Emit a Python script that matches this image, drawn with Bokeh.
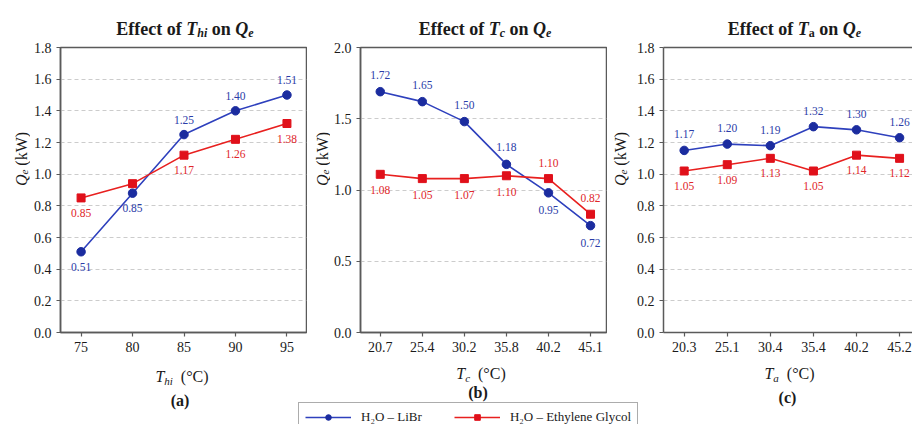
import math
from bokeh.plotting import figure
from bokeh.models import (Range1d, FixedTicker, Label, Legend, LegendItem,
                          ColumnDataSource, LinearAxis, NumeralTickFormatter)
from bokeh.layouts import row, column
from bokeh.embed import file_html
from bokeh.resources import INLINE
from bokeh.core.properties import value

# ---------------- data ----------------
# (a) effect of T_hi
thi = [75, 80, 85, 90, 95]
a_libr = [0.51, 0.88, 1.25, 1.40, 1.50]
a_libr_txt = ["0.51", "0.85", "1.25", "1.40", "1.51"]
a_libr_pos = ["below", "below", "above", "above", "above"]
a_eg = [0.85, 0.94, 1.12, 1.22, 1.32]
a_eg_txt = ["0.85", "", "1.17", "1.26", "1.38"]
a_eg_pos = ["below", "below", "below", "below", "below"]

# (b) effect of T_c
tc = ["20.7", "25.4", "30.2", "35.8", "40.2", "45.1"]
b_libr = [1.69, 1.62, 1.48, 1.18, 0.98, 0.75]
b_libr_txt = ["1.72", "1.65", "1.50", "1.18", "0.95", "0.72"]
b_libr_pos = ["above", "above", "above", "above", "below", "below"]
b_eg = [1.11, 1.08, 1.08, 1.10, 1.08, 0.83]
b_eg_txt = ["1.08", "1.05", "1.07", "1.10", "1.10", "0.82"]
b_eg_pos = ["below", "below", "below", "below", "above", "above"]

# (c) effect of T_a
ta = ["20.3", "25.1", "30.4", "35.4", "40.2", "45.2"]
c_libr = [1.15, 1.19, 1.18, 1.30, 1.28, 1.23]
c_libr_txt = ["1.17", "1.20", "1.19", "1.32", "1.30", "1.26"]
c_libr_pos = ["above"] * 6
c_eg = [1.02, 1.06, 1.10, 1.02, 1.12, 1.10]
c_eg_txt = ["1.05", "1.09", "1.13", "1.05", "1.14", "1.12"]
c_eg_pos = ["below"] * 6

series_names = ["H\u2082O \u2013 LiBr", "H\u2082O \u2013 Ethylene Glycol"]

# ---------------- style ----------------
FONT = "Liberation Serif"
BLUE = "#2e40bd"
BLUE_M = "#1b2c9f"
RED = "#e8201f"
RED_M = "#e0101a"
BLUE_T = "#2b3ca8"
RED_T = "#e0262a"
SPINE = "#5a5a5a"
GRID = "#cccccc"
TXT = "#1a1a1a"

# Times / Liberation Serif advance widths (per 1000 em)
W = {
    "normal": {" ": 250, "(": 333, ")": 333, "\u00b0": 400, "C": 667, "k": 500, "W": 944},
    "italic": {" ": 250, "T": 556, "h": 500, "i": 278, "c": 444, "a": 500, "Q": 722, "e": 444},
    "bold": {" ": 250, "E": 667, "f": 333, "e": 444, "c": 444, "t": 333, "o": 500,
             "n": 556, "(": 333, ")": 333, "a": 500, "b": 556},
    "bold italic": {" ": 250, "T": 611, "h": 556, "i": 278, "c": 444, "a": 500, "Q": 722,
                    "e": 444},
}


def tw(s, style, size):
    return sum(W[style].get(ch, 500) for ch in s) * size / 1000.0


def rich(p, segs, cx, cy, rotated=False):
    """Place a run of differently styled text pieces, centred on cx (or cy if rotated)."""
    total = sum(tw(t, st, sz) for t, st, sz, dy in segs)
    pos = -total / 2.0
    for t, st, sz, dy in segs:
        core = t.strip(" ")
        lead = tw(t[:len(t) - len(t.lstrip(" "))], st, sz)
        if core:
            if rotated:
                x, y, ang = cx - dy, cy + pos + lead, math.pi / 2
            else:
                x, y, ang = cx + pos + lead, cy + dy, 0.0
            p.add_layout(Label(x=x, y=y, x_units="screen", y_units="screen", text=core,
                               text_font=FONT, text_font_size=f"{sz}px",
                               text_font_style=st, text_align="left",
                               text_baseline="alphabetic", angle=ang, text_color=TXT))
        pos += tw(t, st, sz)


def strip(width, height):
    s = figure(width=width, height=height, output_backend="svg", toolbar_location=None,
               x_range=Range1d(0, width), y_range=Range1d(0, height), min_border=0,
               x_axis_location=None, y_axis_location=None)
    s.grid.visible = False
    s.outline_line_color = None
    s.border_fill_color = "white"
    s.background_fill_color = "white"
    return s


TOP_H = 38
MAIN_H = 322
BOT_H = 424 - TOP_H - MAIN_H
FH = 285
TOPB = 9
BOTB = MAIN_H - FH - TOPB


def make_panel(width, left, right, x_range, y_range, yticks, xticks, xlabels=None,
               outline=True):
    p = figure(width=width, height=MAIN_H, output_backend="svg", toolbar_location=None,
               x_range=x_range, y_range=y_range, min_border_left=left,
               min_border_right=right, min_border_top=TOPB, min_border_bottom=BOTB)
    p.background_fill_color = "white"
    p.border_fill_color = "white"
    p.outline_line_color = SPINE if outline else None
    p.outline_line_width = 1.5
    p.xgrid.grid_line_color = None
    p.ygrid.grid_line_color = GRID
    p.ygrid.grid_line_dash = "4 3"
    p.ygrid.grid_line_width = 1
    p.yaxis.ticker = FixedTicker(ticks=yticks)
    p.yaxis.formatter = NumeralTickFormatter(format="0.0")
    p.xaxis.ticker = FixedTicker(ticks=xticks)
    if xlabels is not None:
        p.xaxis.major_label_overrides = {i: s for i, s in zip(xticks, xlabels)}
    for ax in (p.xaxis, p.yaxis):
        ax.axis_line_color = SPINE
        ax.axis_line_width = 1.5
        ax.major_tick_line_color = SPINE
        ax.major_tick_line_width = 1.2
        ax.major_tick_out = 4
        ax.major_tick_in = 0
        ax.minor_tick_line_color = None
        ax.major_label_text_font = FONT
        ax.major_label_text_font_size = "14px"
        ax.major_label_text_color = TXT
    p.yaxis.major_label_standoff = 5
    p.xaxis.major_label_standoff = 5
    if not outline:
        top = LinearAxis(ticker=FixedTicker(ticks=[]), axis_line_color=SPINE,
                         axis_line_width=1.5, major_tick_line_color=None,
                         minor_tick_line_color=None)
        p.add_layout(top, "above")
    return p


def draw_series(p, xs, ys, txt, pos, off, line_c, mark_c, text_c, marker):
    offs = [-off if q == "above" else off for q in pos]
    src = ColumnDataSource(dict(x=xs, y=ys, t=txt, o=offs))
    p.line("x", "y", source=src, line_color=line_c, line_width=1.6)
    p.scatter("x", "y", source=src, marker=marker, size=8.5 if marker == "circle" else 8,
              fill_color=mark_c, line_color=mark_c)
    p.text("x", "y", text="t", source=src, text_font=value(FONT), text_font_size="11.5px",
           text_color=text_c, text_align="center", text_baseline="middle", y_offset="o")


def ylabel_fig(width, baseline_x):
    f = strip(width, MAIN_H)
    cy = MAIN_H - (TOPB + FH / 2.0) + 3
    rich(f, [("Q", "italic", 16, 0), ("e", "italic", 11, -3), (" (kW)", "normal", 16, 0)],
         baseline_x, cy, rotated=True)
    return f


# ---------------- panel (a) ----------------
pa = make_panel(277, 27, 1, Range1d(73, 96.9), Range1d(0, 1.8),
                [0, 0.2, 0.4, 0.6, 0.8, 1.0, 1.2, 1.4, 1.6, 1.8], thi)
draw_series(pa, thi, a_libr, a_libr_txt, a_libr_pos, 15, BLUE, BLUE_M, BLUE_T, "circle")
draw_series(pa, thi, a_eg, a_eg_txt, a_eg_pos, 15, RED, RED_M, RED_T, "square")

# ---------------- panel (b) ----------------
ib = list(range(len(tc)))
pb = make_panel(277, 27, 1, Range1d(-0.47, 5.38), Range1d(0, 2.0),
                [0, 0.5, 1.0, 1.5, 2.0], ib, tc)
draw_series(pb, ib, b_libr, b_libr_txt, b_libr_pos, 17, BLUE, BLUE_M, BLUE_T, "circle")
draw_series(pb, ib, b_eg, b_eg_txt, b_eg_pos, 16, RED, RED_M, RED_T, "square")

# ---------------- panel (c) ----------------
ic = list(range(len(ta)))
pc = make_panel(279, 27, 0, Range1d(-0.48, 5.30), Range1d(0, 1.8),
                [0, 0.2, 0.4, 0.6, 0.8, 1.0, 1.2, 1.4, 1.6, 1.8], ic, ta, outline=False)
draw_series(pc, ic, c_libr, c_libr_txt, c_libr_pos, 16, BLUE, BLUE_M, BLUE_T, "circle")
draw_series(pc, ic, c_eg, c_eg_txt, c_eg_pos, 15, RED, RED_M, RED_T, "square")

yla = ylabel_fig(30, 21)
ylb = ylabel_fig(23, 15)
ylc = ylabel_fig(26, 13)

# frame centres on the page (x)
CA, CB, CC = 181.5, 481.5, 786.0

# ---------------- titles strip ----------------
ts = strip(912, TOP_H)
for cx, sub, sub_style in ((CA + 3, "hi", "bold italic"), (CB + 3, "c", "bold italic"),
                           (CC + 8, "a", "bold")):
    rich(ts, [("Effect of ", "bold", 18, 0), ("T", "bold italic", 18, 0),
              (sub, sub_style, 12, -4), (" on ", "bold", 18, 0),
              ("Q", "bold italic", 18, 0), ("e", "bold italic", 12, -4)],
         cx, TOP_H - 28)

# ---------------- bottom strip: x labels, panel letters, legend ----------------
bs = strip(912, BOT_H)
for cx, sub, yb in ((CA, "hi", 376), (CB - 1, "c", 373), (CC + 3, "a", 373)):
    rich(bs, [("T", "italic", 16, 0), (sub, "italic", 11, -4), ("  (\u00b0C)", "normal", 16, 0)],
         cx, 424 - yb)
for cx, letter, yb in ((CA - 2, "(a)", 400), (CB - 4, "(b)", 392), (CC + 1, "(c)", 397)):
    rich(bs, [(letter, "bold", 16, 0)], cx, 424 - yb)

r1 = bs.line([-50, -40], [-50, -40], line_color=BLUE, line_width=1.6)
r1m = bs.scatter([-50], [-50], marker="circle", size=8.5, fill_color=BLUE_M, line_color=BLUE_M)
r2 = bs.line([-50, -40], [-50, -40], line_color=RED, line_width=1.6)
r2m = bs.scatter([-50], [-50], marker="square", size=8, fill_color=RED_M, line_color=RED_M)
legend = Legend(items=[LegendItem(label=series_names[0], renderers=[r1, r1m]),
                       LegendItem(label=series_names[1], renderers=[r2, r2m])],
                orientation="horizontal", location=(298, -8), padding=6, spacing=32,
                glyph_width=46, glyph_height=14, label_height=14, label_standoff=10,
                label_text_font=FONT, label_text_font_size="13px", label_text_color=TXT,
                border_line_color=SPINE, border_line_width=1.2, margin=0,
                background_fill_color="white", background_fill_alpha=1.0)
bs.add_layout(legend)

layout = column(ts, row(yla, pa, ylb, pb, ylc, pc), bs)
open("out.html", "w").write(file_html(layout, INLINE))
